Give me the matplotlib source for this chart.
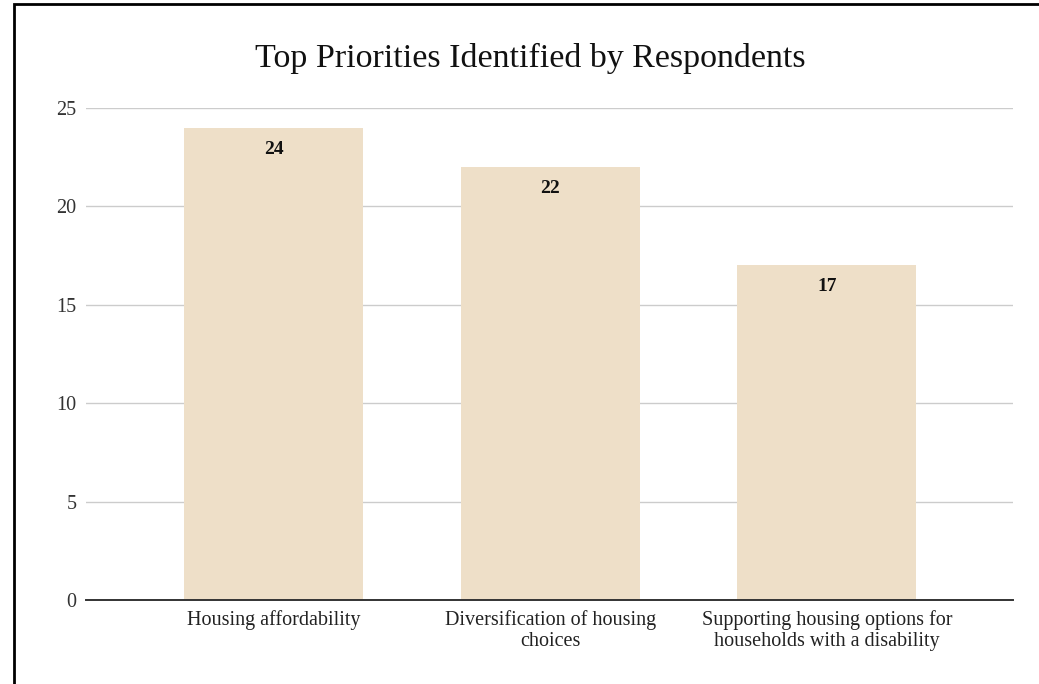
import matplotlib.pyplot as plt
from matplotlib.patches import Rectangle

categories = ["Housing affordability",
              "Diversification of housing\nchoices",
              "Supporting housing options for\nhouseholds with a disability"]
counts = [24, 22, 17]
yticks = [0, 5, 10, 15, 20, 25]

plt.rcParams['font.family'] = ['Liberation Serif', 'DejaVu Serif']

W, H = 1039, 684
fig = plt.figure(figsize=(W / 100, H / 100), dpi=100)
ax = fig.add_axes([86 / W, 1 - 600 / H, (1013 - 86) / W, (600 - 108) / H])

x = range(len(categories))
bars = ax.bar(x, counts, width=0.647, color="#EEDFC8", zorder=2)
for b, v in zip(bars, counts):
    ax.annotate(str(v), (b.get_x() + b.get_width() / 2, v),
                xytext=(0, -15.5), textcoords="offset points",
                ha="center", va="center", fontsize=14, fontweight="bold", color="#111111")

ax.set_xlim(-0.678, 2.673)
ax.set_ylim(0, 25)
ax.set_yticks(yticks)
ax.set_xticks(list(x))
ax.set_xticklabels(categories, fontsize=14.5, color="#222222", linespacing=1.2)
ax.tick_params(axis="y", length=0, pad=7, labelsize=14.5, labelcolor="#333333")
ax.tick_params(axis="x", length=0, pad=7)
ax.grid(axis="y", color="#CCCCCC", linewidth=1, zorder=0)
for s in ["top", "right", "left"]:
    ax.spines[s].set_visible(False)
ax.spines["bottom"].set_color("#333333")
ax.spines["bottom"].set_linewidth(1.4)
ax.spines["bottom"].set_zorder(3)

fig.text(530 / W, 1 - 58 / H, "Top Priorities Identified by Respondents",
         ha="center", va="center", fontsize=24.5, color="#111111")

# outer frame, open at right and bottom
fig.patches.append(Rectangle((14 / W, -0.1), 1.2, 1 - 4 / H + 0.1,
                             transform=fig.transFigure, fill=False,
                             edgecolor="black", linewidth=2))

fig.savefig("out.png", dpi=100)
